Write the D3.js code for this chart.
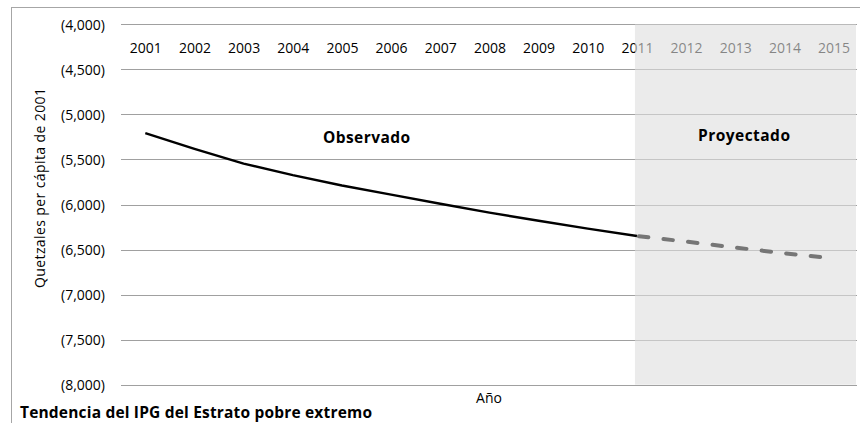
<!DOCTYPE html>
<html>
<head>
<meta charset="utf-8">
<script src="https://cdn.jsdelivr.net/npm/d3@7"></script>
<style>
  html, body { margin: 0; padding: 0; background: #fff; }
  svg { display: block; font-family: "Open Sans", "Liberation Sans", sans-serif; }
</style>
</head>
<body>
<svg id="chart" width="860" height="423"></svg>
<script>
// Años y valores del IPG (quetzales per cápita de 2001, negativos)
const years = ["2001","2002","2003","2004","2005","2006","2007","2008","2009","2010","2011","2012","2013","2014","2015"];
const observedYears = ["2001","2002","2003","2004","2005","2006","2007","2008","2009","2010","2011"];
const observedValues = [-5208, -5382, -5546, -5674, -5789, -5890, -5992, -6090, -6180, -6268, -6350];
const projectedYears = ["2011","2012","2013","2014","2015"];
const projectedValues = [-6350, -6412, -6478, -6541, -6600];
const yTicks = [-4000, -4500, -5000, -5500, -6000, -6500, -7000, -7500, -8000];
const projectionStart = "2011";

const svg = d3.select("#chart");

// marco exterior
svg.append("rect")
  .attr("x", 11.5).attr("y", 7.5)
  .attr("width", 860).attr("height", 430)
  .attr("fill", "#fff").attr("stroke", "#a6a6a6").attr("stroke-width", 1);

const x = d3.scalePoint().domain(years).range([145.3, 833.6]);
const y = d3.scaleLinear().domain([-8000, -4000]).range([384.7, 24.3]);
const plotLeft = 121, plotRight = 857;

const fmt = v => "(" + d3.format(",")(Math.abs(v)) + ")";

// líneas de cuadrícula
svg.append("g")
  .selectAll("line").data(yTicks).join("line")
  .attr("x1", plotLeft).attr("x2", plotRight)
  .attr("y1", d => Math.round(y(d)) + 0.5).attr("y2", d => Math.round(y(d)) + 0.5)
  .attr("stroke", "#a0a0a0").attr("stroke-width", 1);

// eje Y
const yAxis = svg.append("g")
  .attr("transform", `translate(${plotLeft - 16},0)`)
  .call(d3.axisLeft(y).tickValues(yTicks).tickFormat(fmt).tickSize(0).tickPadding(0));
yAxis.select(".domain").remove();
yAxis.selectAll("text").attr("font-size", 14).attr("fill", "#000")
  .attr("font-family", "Open Sans, sans-serif").attr("dy", "0.36em");

// etiquetas de años en la parte superior
const xAxis = svg.append("g")
  .attr("transform", `translate(0,${y(-4260)})`)
  .call(d3.axisBottom(x).tickSize(0).tickPadding(0));
xAxis.select(".domain").remove();
xAxis.selectAll("text").attr("font-size", 14).attr("fill", "#000")
  .attr("dy", "0.36em").attr("font-family", "Open Sans, sans-serif");

// zona proyectada (semitransparente sobre las etiquetas)
svg.append("rect")
  .attr("x", x(projectionStart) - 2)
  .attr("y", y(-4000))
  .attr("width", plotRight - x(projectionStart) + 1)
  .attr("height", y(-8000) - y(-4000))
  .attr("fill", "#dedede").attr("opacity", 0.6);

// serie observada
const line = d3.line().x(d => x(d[0])).y(d => y(d[1]));
svg.append("path")
  .datum(d3.zip(observedYears, observedValues))
  .attr("d", line)
  .attr("fill", "none").attr("stroke", "#000").attr("stroke-width", 2.4)
  .attr("stroke-linejoin", "round");

// serie proyectada
svg.append("path")
  .datum(d3.zip(projectedYears, projectedValues))
  .attr("d", line)
  .attr("fill", "none").attr("stroke", "#767676").attr("stroke-width", 4)
  .attr("stroke-dasharray", "9.5,15.2").attr("stroke-dashoffset", -2)
  .attr("stroke-linecap", "round");

// rótulos de zonas
svg.append("text").attr("x", 323).attr("y", 143)
  .attr("font-size", 15.5).attr("font-weight", "bold")
  .attr("textLength", 87).attr("lengthAdjust", "spacing").text("Observado");
svg.append("text").attr("x", 698).attr("y", 141)
  .attr("font-size", 15.5).attr("font-weight", "bold")
  .attr("textLength", 92).attr("lengthAdjust", "spacing").text("Proyectado");

// títulos de ejes
svg.append("text").attr("x", 489).attr("y", 403).attr("text-anchor", "middle")
  .attr("font-size", 14).text("Año");
svg.append("text")
  .attr("transform", `translate(45,${288}) rotate(-90)`)
  .attr("font-size", 14)
  .attr("textLength", 200).attr("lengthAdjust", "spacing")
  .text("Quetzales per cápita de 2001");

// título
svg.append("text").attr("x", 20).attr("y", 418)
  .attr("font-size", 15.5).attr("font-weight", "bold")
  .attr("textLength", 352).attr("lengthAdjust", "spacing")
  .text("Tendencia del IPG del Estrato pobre extremo");
</script>
</body>
</html>
